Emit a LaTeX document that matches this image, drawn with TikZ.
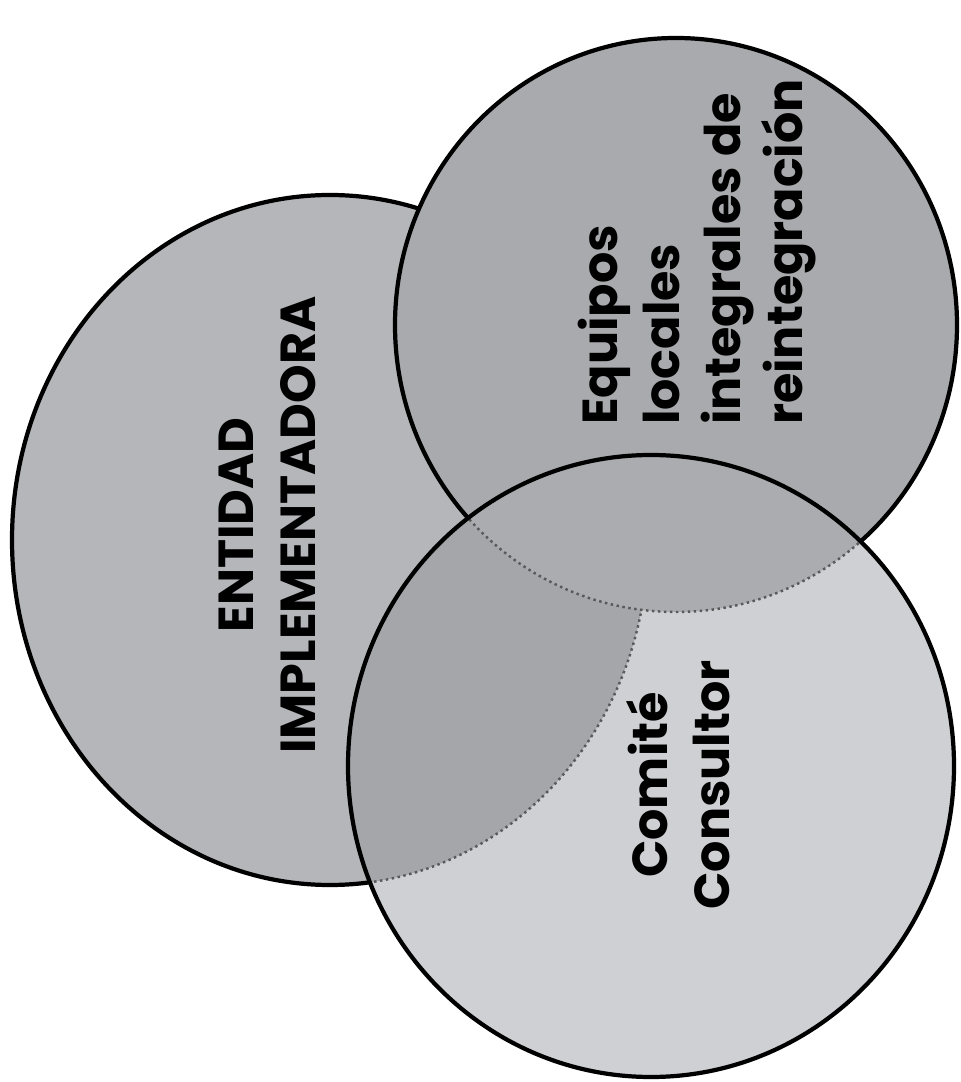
\documentclass[tikz,border=0pt]{standalone}
\usepackage{fontspec}
\setmainfont{Poppins}
\usetikzlibrary{positioning}

\definecolor{entgray}{RGB}{180,182,185}
\definecolor{equgray}{RGB}{168,170,173}
\definecolor{comgray}{RGB}{206,208,211}
\definecolor{entcom}{RGB}{164,166,170}
\definecolor{equcom}{RGB}{170,172,175}

\tikzset{
  rim/.style={draw=black,line width=1.2pt},
  hidden/.style={draw=black!65,line width=0.7pt,densely dotted},
  label/.style={font=\fontsize{14}{17.6}\selectfont\bfseries,rotate=90,anchor=center},
}

\begin{document}
\begin{tikzpicture}
\useasboundingbox (0,0) rectangle (9.61,10.82);

\draw[rim,fill=entgray] (3.30,5.42) ellipse [x radius=3.18, y radius=3.45];
\draw[rim,fill=equgray] (6.76,7.57) ellipse [x radius=2.81, y radius=2.87];
\fill[comgray] (6.51,3.16) ellipse [x radius=3.03, y radius=3.11];

% overlaps seen through the lower circle
\begin{scope}
\clip (6.51,3.16) ellipse [x radius=3.03, y radius=3.11];
\fill[entcom] (3.30,5.42) ellipse [x radius=3.18, y radius=3.45];
\draw[hidden] (3.30,5.42) ellipse [x radius=3.18, y radius=3.45];
\fill[equcom] (6.76,7.57) ellipse [x radius=2.81, y radius=2.87];
\draw[hidden] (6.76,7.57) ellipse [x radius=2.81, y radius=2.87];
\end{scope}
\draw[rim] (6.51,3.16) ellipse [x radius=3.03, y radius=3.11];

\node[label,align=center] (entidad) at (2.67,5.57) {ENTIDAD\\IMPLEMENTADORA};
\node[label,align=left] (equipos) at (6.97,8.30) {Equipos\\locales\\integrales de\\reintegración};
\node[label,align=center] (comite) at (6.78,2.97) {Comité\\Consultor};

\end{tikzpicture}
\end{document}
